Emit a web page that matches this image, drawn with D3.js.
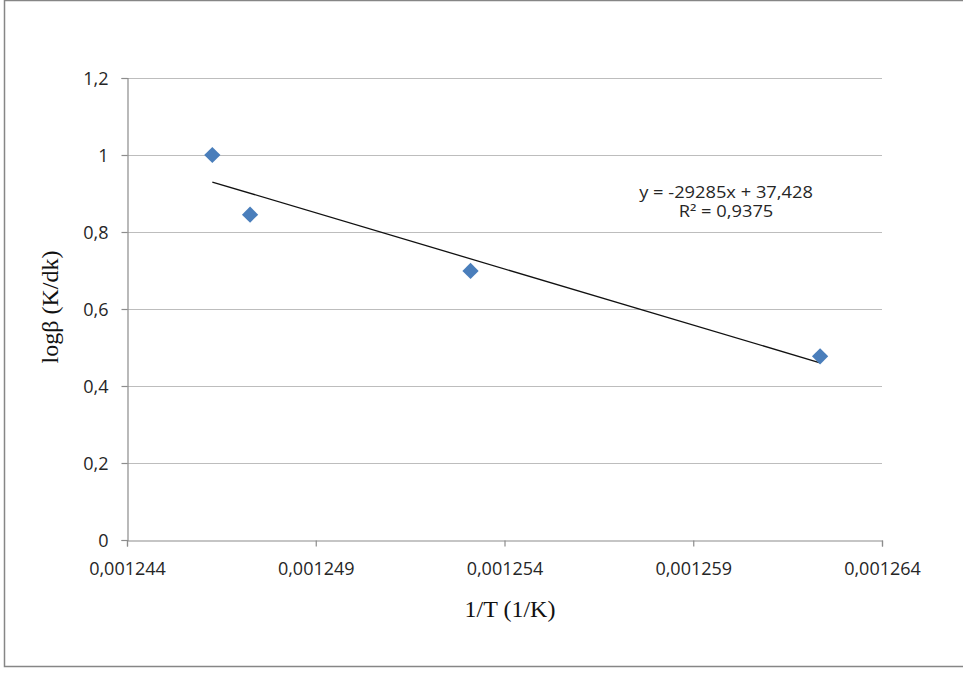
<!DOCTYPE html>
<html>
<head>
<meta charset="utf-8">
<script src="https://cdn.jsdelivr.net/npm/d3@7"></script>
<style>
  html, body { margin: 0; padding: 0; background: #fff; }
  svg { display: block; }
</style>
</head>
<body>
<div id="chart"></div>
<script>
// 1/T values (1/K) and log of heating rate
const invT = [0.00124626, 0.00124726, 0.00125310, 0.00126236];
const logBeta = [1.000, 0.845, 0.699, 0.477];

const xTicks = [0.001244, 0.001249, 0.001254, 0.001259, 0.001264];
const yTicks = [0, 0.2, 0.4, 0.6, 0.8, 1.0, 1.2];

const equationLines = ['y = -29285x + 37,428', 'R² = 0,9375'];
const xTitle = '1/T (1/K)';
const yTitle = 'logβ (K/dk)';

const W = 963, H = 673;
const plot = { left: 127, right: 882, top: 78, bottom: 540 };

const svg = d3.select('#chart').append('svg')
  .attr('width', W)
  .attr('height', H);

// outer chart frame
svg.append('rect')
  .attr('x', 4.5).attr('y', 0.5)
  .attr('width', W + 10).attr('height', 666)
  .attr('fill', '#fff')
  .attr('stroke', '#868686')
  .attr('stroke-width', 1.5);

const x = d3.scaleLinear().domain([0.001244, 0.001264]).range([plot.left, plot.right]);
const y = d3.scaleLinear().domain([0, 1.2]).range([plot.bottom, plot.top]);

const comma = s => s.replace('.', ',');

// horizontal gridlines
svg.append('g')
  .selectAll('line')
  .data(yTicks.filter(d => d > 0))
  .join('line')
  .attr('x1', plot.left).attr('x2', plot.right)
  .attr('y1', d => Math.round(y(d)) + 0.5)
  .attr('y2', d => Math.round(y(d)) + 0.5)
  .attr('stroke', '#bdbdbd')
  .attr('stroke-width', 1.2);

// x axis
const xAxis = svg.append('g')
  .attr('transform', `translate(0, ${plot.bottom + 0.5})`)
  .call(d3.axisBottom(x)
    .tickValues(xTicks)
    .tickSize(6)
    .tickPadding(16)
    .tickFormat(d => comma(d3.format('.6f')(d))));

// y axis
const yAxis = svg.append('g')
  .attr('transform', `translate(${plot.left + 0.5}, 0)`)
  .call(d3.axisLeft(y)
    .tickValues(yTicks)
    .tickSize(6)
    .tickPadding(13)
    .tickFormat(d => comma(String(+d.toFixed(1)))));

[xAxis, yAxis].forEach(g => {
  g.select('.domain').attr('stroke', '#8c8c8c').attr('stroke-width', 1.2);
  g.selectAll('.tick line').attr('stroke', '#8c8c8c').attr('stroke-width', 1.2);
  g.selectAll('.tick text')
    .attr('fill', '#262626')
    .attr('font-family', "'Open Sans', sans-serif")
    .attr('font-size', 18);
});
xAxis.selectAll('.tick text').attr('dy', '0.71em');
yAxis.selectAll('.tick text').attr('dy', '0.36em');

// linear least-squares trendline
const n = invT.length;
const mx = d3.mean(invT), my = d3.mean(logBeta);
let sxy = 0, sxx = 0;
for (let i = 0; i < n; i++) {
  sxy += (invT[i] - mx) * (logBeta[i] - my);
  sxx += (invT[i] - mx) ** 2;
}
const slope = sxy / sxx;
const intercept = my - slope * mx;
const xExt = d3.extent(invT);

svg.append('line')
  .attr('x1', x(xExt[0])).attr('y1', y(slope * xExt[0] + intercept))
  .attr('x2', x(xExt[1])).attr('y2', y(slope * xExt[1] + intercept))
  .attr('stroke', '#111')
  .attr('stroke-width', 1.3);

// diamond markers
svg.append('g')
  .selectAll('path')
  .data(invT.map((v, i) => [v, logBeta[i]]))
  .join('path')
  .attr('d', d3.symbol(d3.symbolSquare, 132))
  .attr('transform', d => `translate(${x(d[0])}, ${y(d[1])}) rotate(45)`)
  .attr('fill', '#4a7ebb');

// equation label (slightly widened like the original)
svg.append('g')
  .attr('transform', 'translate(726, 0) scale(1.18, 1)')
  .selectAll('text')
  .data(equationLines)
  .join('text')
  .attr('x', 0)
  .attr('y', (d, i) => 198 + i * 19)
  .attr('text-anchor', 'middle')
  .attr('fill', '#262626')
  .attr('font-family', "'Open Sans', sans-serif")
  .attr('font-size', 15.5)
  .text(d => d);

// axis titles
svg.append('text')
  .attr('x', 510)
  .attr('y', 617)
  .attr('text-anchor', 'middle')
  .attr('fill', '#111')
  .attr('font-family', "'Liberation Serif', 'Times New Roman', serif")
  .attr('font-size', 24)
  .text(xTitle);

svg.append('text')
  .attr('transform', 'translate(58, 307) rotate(-90)')
  .attr('text-anchor', 'middle')
  .attr('fill', '#111')
  .attr('font-family', "'Liberation Serif', 'Times New Roman', serif")
  .attr('font-size', 24)
  .text(yTitle);
</script>
</body>
</html>
